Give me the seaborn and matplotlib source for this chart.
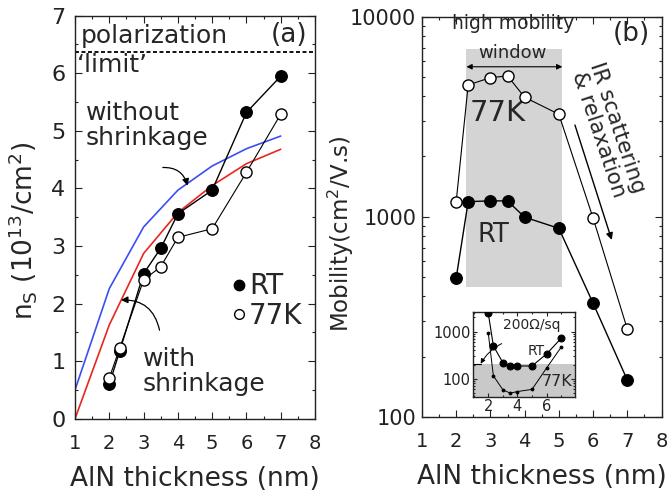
import numpy as np
import pandas as pd
import matplotlib
matplotlib.use("Agg")
import matplotlib.pyplot as plt
import matplotlib.ticker as mticker
from matplotlib.lines import Line2D
import seaborn as sns

# ---------------- data ----------------
# panel (a): sheet density
thick_calc = [1, 2, 3, 4, 5, 6, 7]
ns_without_shrink = [0.50, 2.26, 3.33, 3.97, 4.39, 4.69, 4.91]
ns_with_shrink = [0.00, 1.63, 2.87, 3.58, 4.05, 4.43, 4.68]
thick_a = [2, 2.3, 3, 3.5, 4, 5, 6, 7]
ns_rt = [0.60, 1.17, 2.52, 2.96, 3.56, 3.97, 5.32, 5.95]
ns_77k = [0.71, 1.22, 2.41, 2.64, 3.15, 3.30, 4.28, 5.29]
polarization_limit = 6.37

# panel (b): mobility
thick_b = [2, 2.35, 3, 3.5, 4, 5, 6, 7]
mob_77k = [1190, 4550, 4950, 5050, 3950, 3250, 985, 275]
mob_rt = [495, 1190, 1200, 1200, 995, 875, 370, 153]
window_x = (2.3, 5.1)
window_y = (445, 6875)

# inset: sheet resistance
rs_rt = [2450, 500, 221, 188, 188, 188, 338, 725]
rs_77k = [925, 116, 59, 50, 54, 60, 170, 470]
rs_limit = 210

xticks = [1, 2, 3, 4, 5, 6, 7, 8]

# ---------------- style ----------------
sns.set_style("ticks")
plt.rcParams.update({
    "font.family": ["DejaVu Sans"],
    "mathtext.fontset": "dejavusans",
    "xtick.direction": "in", "ytick.direction": "in",
    "xtick.top": True, "ytick.right": True,
    "xtick.major.size": 5, "ytick.major.size": 5,
    "xtick.minor.size": 2.5, "ytick.minor.size": 2.5,
    "xtick.major.width": 0.8, "ytick.major.width": 0.8,
    "xtick.minor.width": 0.8, "ytick.minor.width": 0.8,
    "axes.edgecolor": "#222222", "axes.linewidth": 1.0,
    "xtick.color": "#222222", "ytick.color": "#222222",
})

fig = plt.figure(figsize=(6.68, 4.97), dpi=100)
axa = fig.add_axes([0.1123, 0.1575, 0.3593, 0.8109])
axb = fig.add_axes([0.6317, 0.161, 0.3586, 0.8058])
axi = fig.add_axes([0.7076, 0.2018, 0.1532, 0.171])

XTICK_FS = 14
LAB_FS = 19

# ---------------- panel (a) ----------------
sns.lineplot(x=thick_calc, y=ns_without_shrink, color="#3b4ef2", lw=1.2, ax=axa)
sns.lineplot(x=thick_calc, y=ns_with_shrink, color="#e8261f", lw=1.2, ax=axa)
sns.lineplot(x=thick_a, y=ns_rt, color="black", lw=1.0, marker="o", markersize=8.5,
             markerfacecolor="black", markeredgecolor="black", ax=axa, zorder=4)
sns.lineplot(x=thick_a, y=ns_77k, color="black", lw=0.8, marker="o", markersize=8,
             markerfacecolor="white", markeredgecolor="black", markeredgewidth=1.0,
             ax=axa, zorder=5)
axa.axhline(polarization_limit, color="black", lw=1.3, ls=(0, (2.2, 1.4)))

axa.set_xlim(1, 8)
axa.set_ylim(0, 7)
axa.set_xticks(xticks)
axa.set_yticks(range(0, 8))
axa.xaxis.set_minor_locator(mticker.MultipleLocator(0.5))
axa.yaxis.set_minor_locator(mticker.MultipleLocator(0.5))
axa.tick_params(axis="x", labelsize=XTICK_FS, pad=11)
axa.tick_params(axis="y", labelsize=16, pad=7)
axa.set_xlabel("AlN thickness (nm)", fontsize=LAB_FS, labelpad=9)
axa.set_ylabel(r"n$_\mathrm{S}$ (10$^{13}$/cm$^2$)", fontsize=LAB_FS)
axa.yaxis.set_label_coords(-0.15, 0.466)

axa.text(1.17, 6.64, "polarization", fontsize=18, ha="left", va="center")
axa.text(7.79, 6.66, "(a)", fontsize=19, ha="right", va="center")
axa.text(1.06, 6.14, "\u2018limit\u2019", fontsize=18, ha="left", va="center")
axa.text(1.32, 5.10, "without\nshrinkage", fontsize=18, ha="left", va="center",
         linespacing=1.05)
axa.text(2.98, 0.82, "with\nshrinkage", fontsize=18, ha="left", va="center",
         linespacing=1.05)
axa.annotate("", xy=(4.30, 4.0), xytext=(3.48, 4.36),
             arrowprops=dict(arrowstyle="-|>", color="black", lw=0.9,
                             connectionstyle="arc3,rad=-0.45", mutation_scale=10))
axa.annotate("", xy=(2.26, 2.06), xytext=(3.48, 1.49),
             arrowprops=dict(arrowstyle="-|>", color="black", lw=0.9,
                             connectionstyle="arc3,rad=0.45", mutation_scale=10))

handles = [
    Line2D([], [], ls="none", marker="o", markersize=7.5, markerfacecolor="black",
           markeredgecolor="black"),
    Line2D([], [], ls="none", marker="o", markersize=7, markerfacecolor="white",
           markeredgecolor="black"),
]
axa.legend(handles, ["RT", "77K"], loc="center left", bbox_to_anchor=(0.655, 0.292),
           frameon=False, fontsize=20, handlelength=0.5, handletextpad=0.1,
           borderpad=0, borderaxespad=0, labelspacing=0.05)

# ---------------- panel (b) ----------------
axb.set_yscale("log")
axb.fill_between(list(window_x), window_y[0], window_y[1], color="#d4d4d4", lw=0, zorder=0)
sns.lineplot(x=thick_b, y=mob_77k, color="black", lw=0.8, marker="o", markersize=8,
             markerfacecolor="white", markeredgecolor="black", markeredgewidth=1.0,
             ax=axb, zorder=5)
sns.lineplot(x=thick_b, y=mob_rt, color="black", lw=1.0, marker="o", markersize=8.5,
             markerfacecolor="black", markeredgecolor="black", ax=axb, zorder=4)
axb.set_xlim(1, 8)
axb.set_ylim(100, 10000)
axb.set_xticks(xticks)
axb.xaxis.set_minor_locator(mticker.MultipleLocator(0.5))
axb.yaxis.set_major_locator(mticker.FixedLocator([100, 1000, 10000]))
axb.yaxis.set_major_formatter(mticker.FuncFormatter(lambda v, p: f"{int(round(v))}"))
axb.yaxis.set_minor_locator(mticker.LogLocator(base=10, subs=np.arange(2, 10)))
axb.yaxis.set_minor_formatter(mticker.NullFormatter())
axb.tick_params(axis="x", labelsize=XTICK_FS, pad=11)
axb.tick_params(axis="y", labelsize=15, pad=4)
axb.set_xlabel("AlN thickness (nm)", fontsize=LAB_FS, labelpad=9)
axb.set_ylabel("Mobility(cm$^2$/V.s)", fontsize=16.5)
axb.yaxis.set_label_coords(-0.275, 0.457)

axb.text(3.65, 9175, "high mobility", fontsize=13.5, ha="center", va="center")
axb.text(3.65, 6570, "window", fontsize=13, ha="center", va="center")
axb.annotate("", xy=(window_x[0], 5610), xytext=(window_x[1], 5610),
             arrowprops=dict(arrowstyle="<|-|>", color="black", lw=0.8, mutation_scale=8,
                             shrinkA=0, shrinkB=0))
axb.text(3.22, 3314, "77K", fontsize=21, ha="center", va="center")
axb.text(3.10, 811, "RT", fontsize=18.5, ha="center", va="center")
axb.text(7.66, 8222, "(b)", fontsize=19, ha="right", va="center")
axb.text(6.44, 2681, "IR scattering\n& relaxation", fontsize=15.5, ha="center",
         va="center", rotation=-71.5, rotation_mode="anchor", linespacing=1.0)
axb.annotate("", xy=(6.545, 766), xytext=(5.47, 2871),
             arrowprops=dict(arrowstyle="-|>", color="black", lw=1.0, mutation_scale=10,
                             shrinkA=0, shrinkB=0))

# ---------------- inset ----------------
axi.set_yscale("log")
axi.set_xlim(0.93, 7.95)
axi.set_ylim(42, 2650)
axi.axhspan(10, rs_limit, color="#c9c9c9", lw=0, zorder=0)
sns.lineplot(x=thick_b, y=rs_rt, color="black", lw=0.8, marker="o", markersize=5,
             markerfacecolor="black", markeredgecolor="black", ax=axi, zorder=4)
sns.lineplot(x=thick_b, y=rs_77k, color="black", lw=0.7, marker="o", markersize=2,
             markerfacecolor="black", markeredgecolor="black", ax=axi, zorder=4)
axi.set_xticks([2, 4, 6])
axi.xaxis.set_minor_locator(mticker.MultipleLocator(1))
axi.yaxis.set_major_locator(mticker.FixedLocator([100, 1000]))
axi.yaxis.set_major_formatter(mticker.FuncFormatter(lambda v, p: f"{int(round(v))}"))
axi.yaxis.set_minor_locator(mticker.LogLocator(base=10, subs=np.arange(2, 10)))
axi.yaxis.set_minor_formatter(mticker.NullFormatter())
axi.tick_params(labelsize=10.5, pad=1.5, length=3)
axi.tick_params(which="minor", length=1.5)
axi.text(4.99, 1420, "200\u03a9/sq", fontsize=10, ha="center", va="center")
axi.text(5.31, 394, "RT", fontsize=10, ha="center", va="center")
axi.text(6.74, 88, "77K", fontsize=11.5, ha="center", va="center")
axi.axhline(rs_limit, xmin=0, xmax=0.08, color="black", lw=0.8)
axi.annotate("", xy=(1.48, rs_limit), xytext=(2.92, 560),
             arrowprops=dict(arrowstyle="-|>", color="black", lw=0.7, mutation_scale=7,
                             connectionstyle="arc3,rad=0.15", shrinkA=0, shrinkB=0))

fig.savefig("out.png", dpi=100)
